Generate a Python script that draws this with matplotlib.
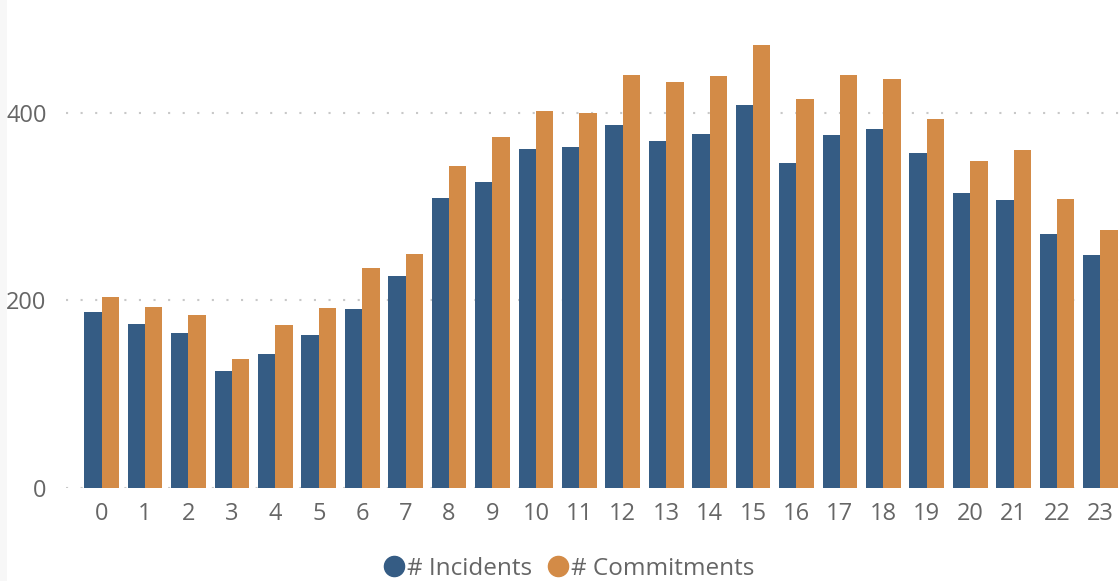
import matplotlib
matplotlib.use("Agg")
import matplotlib.pyplot as plt
from matplotlib.lines import Line2D
from matplotlib.patches import Rectangle
import numpy as np

hours = [str(h) for h in range(24)]
incidents = [188, 175, 165, 125, 143, 163, 191, 226, 309, 326, 361, 364,
             387, 370, 377, 408, 346, 376, 383, 357, 314, 307, 271, 248]
commitments = [204, 193, 184, 137, 174, 192, 235, 250, 343, 374, 402, 400,
               440, 433, 439, 472, 415, 440, 436, 393, 349, 360, 308, 275]

BLUE = "#355c84"
ORANGE = "#d38b47"
TEXT = "#666666"
GRID = "#c8c8c8"

plt.rcParams["font.family"] = ["Open Sans", "DejaVu Sans"]

fig = plt.figure(figsize=(11.2, 5.81), dpi=100)
fig.patches.append(Rectangle((0, 0), 7 / 1120, 1, transform=fig.transFigure,
                             facecolor="#f7f7f7", edgecolor="none", zorder=0))

ax = fig.add_axes([66 / 1120, 93 / 581, 1 - 66 / 1120, 469 / 581])
x = np.arange(len(hours))
w = 0.4
ax.bar(x - w / 2, incidents, w, color=BLUE, zorder=2)
ax.bar(x + w / 2, commitments, w, color=ORANGE, zorder=2)

ax.set_xlim(-0.82, 23.45)
ax.set_ylim(0, 500)
ax.set_xticks(x)
ax.set_xticklabels(hours)
ax.set_yticks([0, 200, 400])
ax.tick_params(axis="both", length=0, labelsize=17, labelcolor=TEXT)
ax.tick_params(axis="x", pad=10)
ax.tick_params(axis="y", pad=14)
for s in ax.spines.values():
    s.set_visible(False)
ax.grid(axis="y", color=GRID, linestyle=(0, (1, 6)), linewidth=1.5, zorder=1)
ax.set_axisbelow(True)

handles = [
    Line2D([], [], marker="o", linestyle="none", markersize=14.5,
           markerfacecolor=BLUE, markeredgecolor=BLUE, label="# Incidents"),
    Line2D([], [], marker="o", linestyle="none", markersize=14.5,
           markerfacecolor=ORANGE, markeredgecolor=ORANGE, label="# Commitments"),
]
fig.legend(handles=handles, loc="center", bbox_to_anchor=(0.506, 1 - 569 / 581),
           ncol=2, frameon=False, fontsize=17.5, labelcolor=TEXT,
           handletextpad=-0.05, columnspacing=0.45, handlelength=1.2)

fig.savefig("out.png", dpi=100)
